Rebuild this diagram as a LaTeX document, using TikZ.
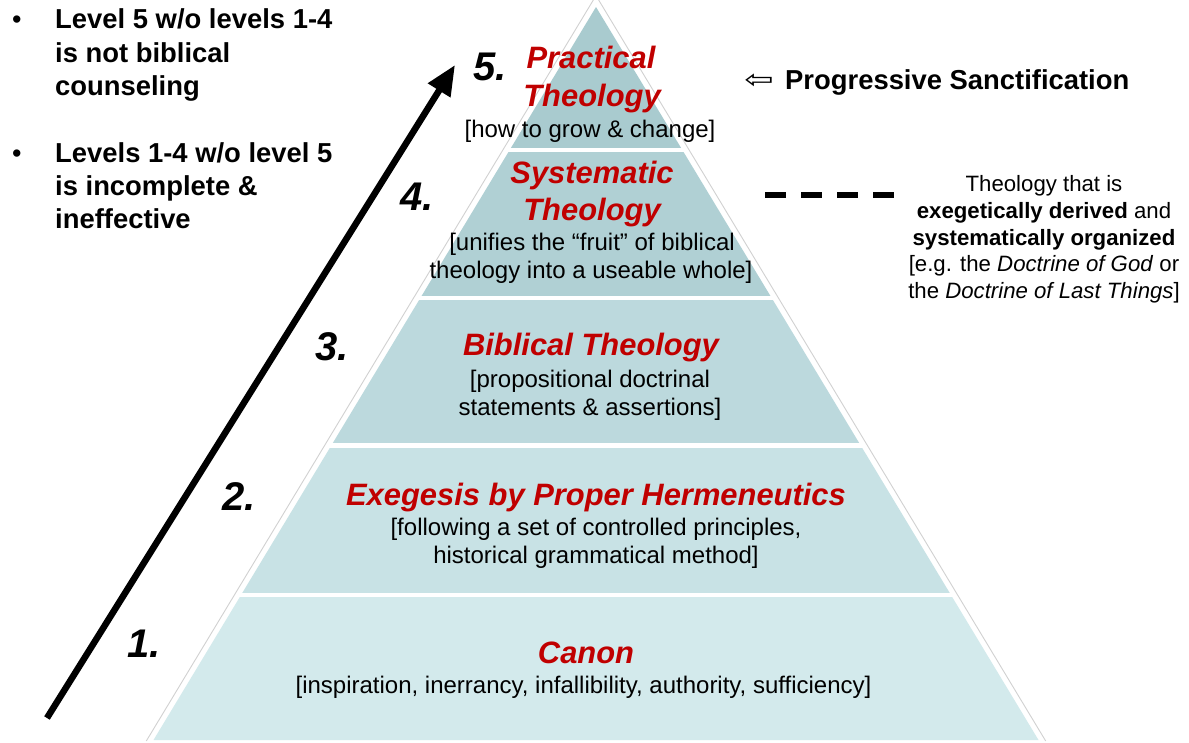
\documentclass[tikz,border=0pt]{standalone}
\usepackage{fontspec}
\setmainfont{Liberation Sans}
\newfontfamily\djv{DejaVu Sans}
\usetikzlibrary{arrows.meta}
\definecolor{hred}{HTML}{C00000}
\definecolor{bandA}{HTML}{A9CBCF}
\definecolor{bandB}{HTML}{B0D0D4}
\definecolor{bandC}{HTML}{BCD9DD}
\definecolor{bandD}{HTML}{C8E2E5}
\definecolor{bandE}{HTML}{D3EAEC}
\tikzset{
  head/.style={font=\fontsize{30.9}{36}\selectfont\bfseries\itshape, text=hred, anchor=base, inner sep=0pt},
  sub/.style={font=\fontsize{24}{28}\selectfont, anchor=base, inner sep=0pt},
  num/.style={font=\fontsize{40}{44}\selectfont\bfseries\itshape, anchor=base west, inner sep=0pt},
  side/.style={font=\fontsize{27.4}{33}\selectfont\bfseries, anchor=base west, inner sep=0pt},
  note/.style={font=\fontsize{22.2}{27}\selectfont, anchor=base, inner sep=0pt},
}
\begin{document}
\begin{tikzpicture}[x=1pt,y=-1pt]
\useasboundingbox (0,0) rectangle (1189,742);
\fill[white] (0,0) rectangle (1189,742);
% pyramid geometry
\coordinate (apex) at (596,7);
\coordinate (bl) at (153.5,740);
\coordinate (br) at (1038.5,740);
\foreach \ya/\yb/\c in {0/147/bandA,152/295/bandB,300/442/bandC,448/592/bandD,597/745/bandE}{
  \begin{scope}
    \clip (0,\ya) rectangle (1189,\yb);
    \fill[\c] (apex) -- (bl) -- (br) -- cycle;
  \end{scope}
}
% outer outline
\coordinate (ol) at (146.3,741);
\coordinate (ot) at (596,-4.4);
\coordinate (or) at (1045.7,741);
\draw[black!18, line width=0.9pt] (ol) -- (ot) -- (or);
% level 5
\node[head] (h5a) at (591,68) {Practical};
\node[head] (h5b) at (592,106) {Theology};
\node[sub] (s5) at (590,137) {[how to grow \& change]};
% level 4
\node[head] (h4a) at (592,183) {Systematic};
\node[head] (h4b) at (592,220) {Theology};
\node[sub] (s4a) at (592,250) {[unifies the “fruit” of biblical};
\node[sub] (s4b) at (591,278) {theology into a useable whole]};
% level 3
\node[head] (h3) at (591,355) {Biblical Theology};
\node[sub] (s3a) at (590,387) {[propositional doctrinal};
\node[sub] (s3b) at (590,415) {statements \& assertions]};
% level 2
\node[head] (h2) at (596,505) {Exegesis by Proper Hermeneutics};
\node[sub] (s2a) at (596,535) {[following a set of controlled principles,};
\node[sub] (s2b) at (596,563) {historical grammatical method]};
% level 1
\node[head] (h1) at (586,663) {Canon};
\node[sub] (s1) at (583.5,693) {[inspiration, inerrancy, infallibility, authority, sufficiency]};
% numbers
\node[num] (n5) at (473,80) {5.};
\node[num] (n4) at (400,210) {4.};
\node[num] (n3) at (315,360) {3.};
\node[num] (n2) at (222,510) {2.};
\node[num] (n1) at (127,657) {1.};
% big arrow
\coordinate (a0) at (47,718);
\coordinate (a1) at (455,65);
\draw[line width=6.5pt, -{Triangle[length=30pt,width=25pt]}] (a0) -- (a1);
% left bullets
\node[side, font=\fontsize{27}{33}\selectfont] (b1) at (12,28) {•};
\node[side] (l1a) at (55,28) {Level 5 w/o levels 1-4};
\node[side] (l1b) at (55,62) {is not biblical};
\node[side] (l1c) at (55,95) {counseling};
\node[side, font=\fontsize{27}{33}\selectfont] (b2) at (12,162) {•};
\node[side] (l2a) at (55,162) {Levels 1-4 w/o level 5};
\node[side] (l2b) at (55,195) {is incomplete \&};
\node[side] (l2c) at (55,228) {ineffective};
% progressive sanctification
\node[anchor=center, inner sep=0pt, font=\djv\fontsize{26}{30}\selectfont] (parr) at (759,81.5) {\scalebox{1.35}[1]{⇦}};
\node[side] (ps) at (785,89) {Progressive Sanctification};
% dashed line
\coordinate (d0) at (765,195);
\coordinate (d1) at (894,195);
\draw[line width=6pt, dash pattern=on 21pt off 15pt] (d0) -- (d1);
% right note
\node[note] (r1) at (1044,191) {Theology that is};
\node[note] (r2) at (1044,218) {\textbf{exegetically derived} and};
\node[note] (r3) at (1044,245) {\textbf{systematically organized}};
\node[note] (r4) at (1044,271) {[e.g. the \textit{Doctrine of God} or};
\node[note] (r5) at (1044,298) {the \textit{Doctrine of Last Things}]};
\end{tikzpicture}
\end{document}
